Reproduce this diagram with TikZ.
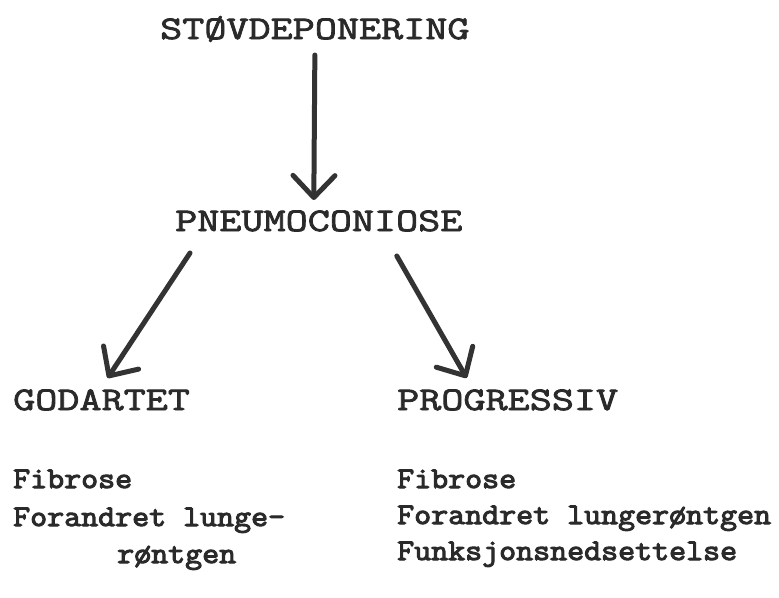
\documentclass[tikz,border=0pt]{standalone}
\usepackage{fontspec}
\usetikzlibrary{arrows.meta,calc}
\newfontfamily\headfont[FakeStretch=1.3,FakeBold=2.5]{Latin Modern Mono}
\newfontfamily\listfont[FakeStretch=1.1,FakeBold=3.5]{Latin Modern Mono}
\definecolor{ink}{HTML}{2A2A2A}
\definecolor{pen}{HTML}{333333}
\begin{document}
\begin{tikzpicture}[x=1pt,y=-1pt,
  head/.style={font=\headfont\fontsize{33}{33}\selectfont, text=ink, inner sep=0pt, anchor=base west},
  item/.style={font=\listfont\fontsize{30}{30}\selectfont, text=ink, inner sep=0pt, anchor=base west},
  arr/.style={draw=pen, line width=5pt, line cap=round, line join=round,
    -{Straight Barb[length=22pt,width=42pt,line cap=round,line join=round]}}]
\useasboundingbox (0,0) rectangle (779,597);
\fill[white] (0,0) rectangle (779,597);
\node[head] (st) at (160,39) {STØVDEPONERING};
\node[head] (pn) at (175,231) {PNEUMOCONIOSE};
\node[head] (go) at (13,410) {GODARTET};
\node[head] (pr) at (397,410) {PROGRESSIV};
\node[item] (lf1) at (13,488) {Fibrose};
\node[item] (lf2) at (13,526) {Forandret lunge-};
\node[item] (lf3) at (117,563) {røntgen};
\node[item] (rf1) at (397,488) {Fibrose};
\node[item] (rf2) at (397,524) {Forandret lungerøntgen};
\node[item] (rf3) at (397,560) {Funksjonsnedsettelse};
\draw[arr] ($(st.base)+(0,16)$) -- ($(pn.base)+(-5,-31)$);
\draw[arr] ($(pn.base west)+(15,22)$) -- ($(go.base)+(6,-32)$);
\draw[arr] ($(pn.base)+(78,25)$) -- ($(pr.base)+(-41,-32)$);
\end{tikzpicture}
\end{document}
